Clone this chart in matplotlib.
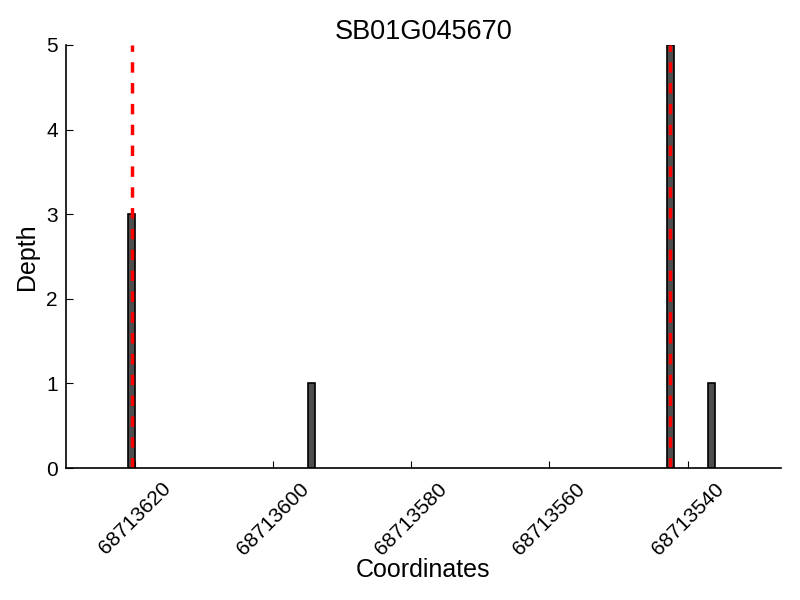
import matplotlib
matplotlib.use("Agg")
import matplotlib.pyplot as plt

plt.rcParams['font.family'] = ['Liberation Sans', 'DejaVu Sans']

# data
positions = [68713620, 68713594, 68713542, 68713536]
depths = [3, 1, 5, 1]
marks = [68713620, 68713542]
xticks = [68713620, 68713600, 68713580, 68713560, 68713540]
title = "SB01G045670"

fig = plt.figure(figsize=(8, 6), dpi=100)
ax = fig.add_axes([0.0825, 0.22, 0.8935, 0.705])

ax.bar(positions, depths, width=1, align='edge', color='#4d4d4d',
       edgecolor='black', linewidth=1.2)
for m in marks:
    ax.vlines(m + 0.5, 0, 5, colors='red', linestyles=(0, (3, 3)), linewidth=2.5)

ax.set_xlim(68713630, 68713526.5)
ax.set_ylim(0, 5)
ax.set_xticks(xticks)
ax.set_xticklabels([str(t) for t in xticks], rotation=45)
ax.set_yticks(range(6))

ax.spines['top'].set_visible(False)
ax.spines['right'].set_visible(False)
ax.spines['left'].set_linewidth(1.2)
ax.spines['bottom'].set_linewidth(1.2)
ax.tick_params(direction='in', length=5, width=0.8, labelsize=15, pad=6)
ax.tick_params(axis='x', pad=8)

ax.set_title(title, fontsize=19.5, pad=4)
ax.set_xlabel("Coordinates", fontsize=18, labelpad=0)
ax.set_ylabel("Depth", fontsize=18, labelpad=5)

fig.savefig("out.png", dpi=100)
